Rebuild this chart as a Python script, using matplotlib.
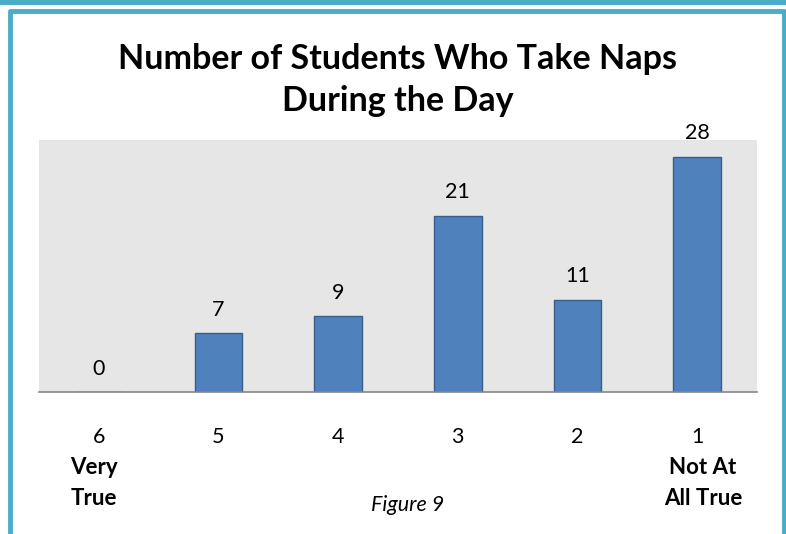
import matplotlib
matplotlib.use("Agg")
import matplotlib.pyplot as plt
from matplotlib.patches import Rectangle
from matplotlib.lines import Line2D

categories = ["6", "5", "4", "3", "2", "1"]
counts = [0, 7, 9, 21, 11, 28]

plt.rcParams['font.family'] = ['Lato', 'DejaVu Sans']

fig = plt.figure(figsize=(7.86, 5.34), dpi=100)
W, H = 786, 534

# teal frame
teal = '#4BACC6'
fig.add_artist(Rectangle((0, 1 - 5 / H), 1, 5 / H, transform=fig.transFigure, color=teal, lw=0))
fig.add_artist(Line2D([10 / W, 10 / W, 784 / W, 784 / W], [0, 1 - 10.5 / H, 1 - 10.5 / H, 0],
                      transform=fig.transFigure, color=teal, lw=3.5))

ax = fig.add_axes([39 / W, 1 - 392 / H, 718 / W, 252 / H])
ax.set_facecolor('#E6E6E6')
x = range(len(categories))
bars = ax.bar(x, counts, width=0.4, color='#4F81BD', edgecolor='#385D8A', linewidth=1)
for xi, v in zip(x, counts):
    ax.text(xi, v + 1.6, str(v), ha='center', va='bottom', fontsize=15.5)

ax.set_xlim(-0.5, len(categories) - 0.5)
ax.set_ylim(0, 30)
ax.set_yticks([])
ax.set_xticks(list(x))
ax.set_xticklabels(categories, fontsize=15.5)
ax.tick_params(axis='x', length=0, pad=25)
for s in ['top', 'left', 'right']:
    ax.spines[s].set_visible(False)
ax.spines['bottom'].set_color('#868686')
ax.spines['bottom'].set_linewidth(1.2)

fig.text(398 / W, 1 - 80 / H, "Number of Students Who Take Naps\nDuring the Day", ha='center', va='center',
         fontsize=24.5, fontweight='bold', linespacing=1.42)
fig.text(94 / W, 1 - 483 / H, "Very\nTrue", ha='center', va='center', fontsize=16, fontweight='bold',
         linespacing=1.6)
fig.text(703 / W, 1 - 483 / H, "Not At\nAll True", ha='center', va='center', fontsize=16, fontweight='bold',
         linespacing=1.6)
fig.text(408 / W, 1 - 505 / H, "Figure 9", ha='center', va='center', fontsize=15.5, style='italic')

fig.savefig("out.png", dpi=100)
